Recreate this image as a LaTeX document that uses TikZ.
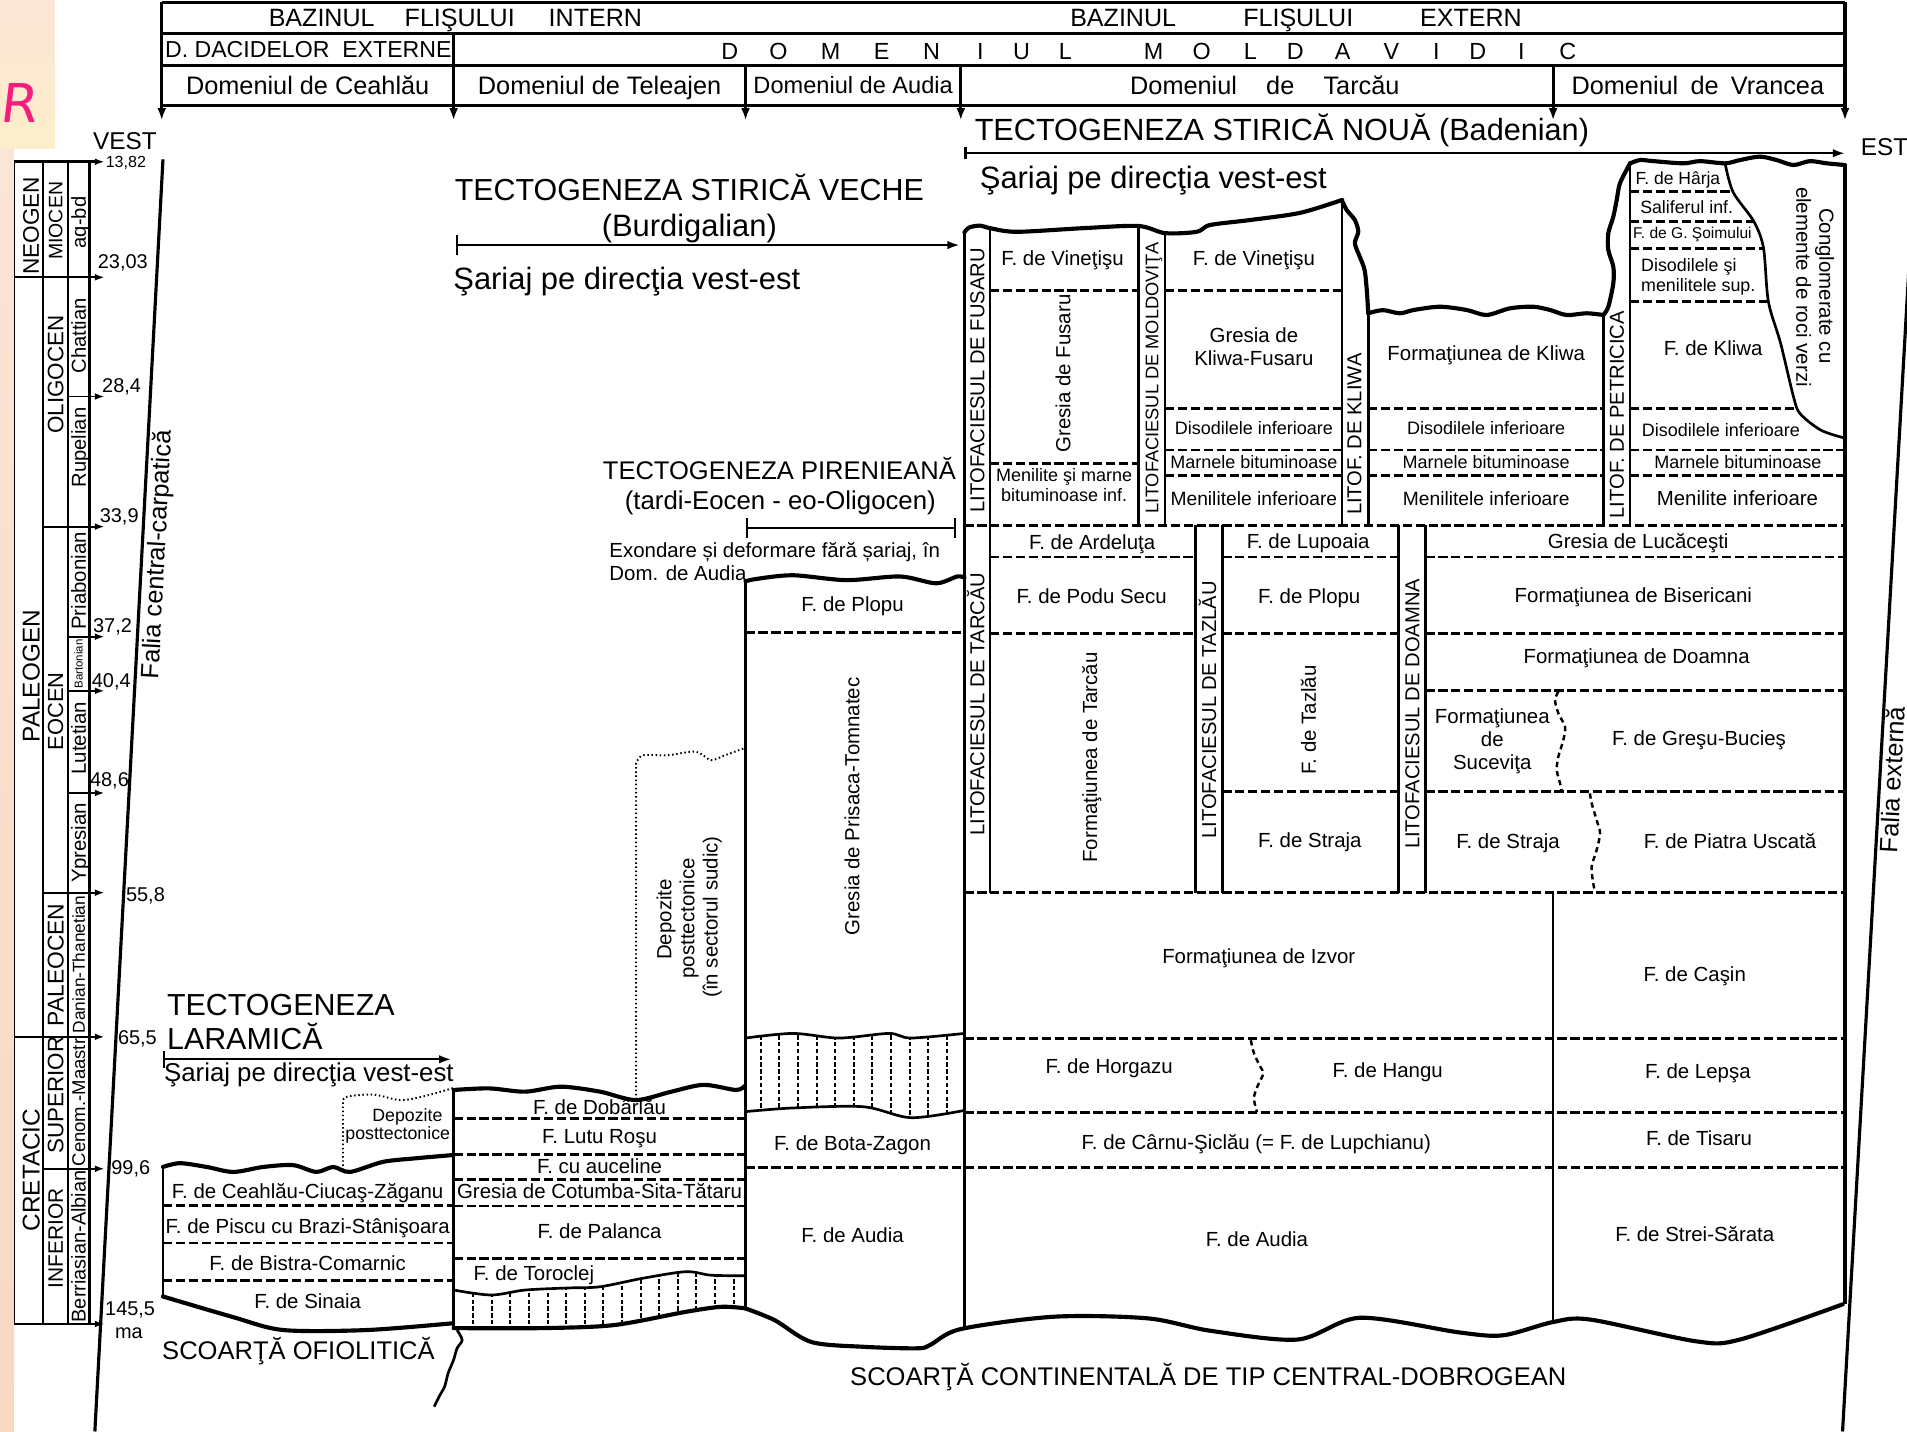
\documentclass[tikz,border=0pt]{standalone}
\usepackage{fontspec}
\setmainfont{Liberation Sans}
\newfontfamily\handfont[FakeSlant=0.12]{DejaVu Sans}
\usetikzlibrary{arrows.meta}
\definecolor{peachTop}{RGB}{251,229,214}
\definecolor{peachMid}{RGB}{252,238,202}
\definecolor{peachLow}{RGB}{249,216,192}
\definecolor{markPink}{RGB}{245,30,125}
\newcommand{\geofs}[1]{\fontsize{#1}{#1}\selectfont}
\newcommand{\geocap}[1]{\the\dimexpr #1pt*716/1000\relax}
\begin{document}
\begin{tikzpicture}[x=0.5pt,y=-0.5pt,
    geoBorder/.style={line width=1.3pt},
    geoLine/.style={line width=1.1pt},
    geoThin/.style={line width=0.7pt},
    geoWave/.style={line width=1.7pt,line join=round,line cap=round},
    geoDash/.style={line width=1.2pt,dash pattern=on 3.8pt off 1.5pt},
    geoDot/.style={line width=0.8pt,dash pattern=on 0.6pt off 1.1pt},
    geoHatch/.style={line width=0.8pt,dash pattern=on 1.8pt off 1pt},
    geoSep/.style={line width=1pt,dash pattern=on 2.2pt off 1.6pt},
    geoTip/.style={-{Latex[length=5pt,width=3.6pt]}},
    geoAgeTip/.style={-{Latex[length=4pt,width=2.8pt]},line width=0.8pt},
    geoTxt/.style={inner sep=0pt,font=\geofs{#1},text height=\geocap{#1},text depth=0pt},
    geoLab/.style={geoTxt=8.4},
    geoLabS/.style={geoTxt=7.4},
    geoLabM/.style={geoTxt=7.9},
    geoLit/.style={geoTxt=8.3},
    geoHdr/.style={geoTxt=10.3},
]
% Background
\fill[white] (0,0) rectangle (1568,1177);
\shade[top color=peachTop,bottom color=peachMid] (0,0) rectangle (45,122);
\shade[top color=peachTop,middle color=peachMid,bottom color=peachLow] (0,122) rectangle (11.5,1177);
\useasboundingbox (0,0) rectangle (1568,1177);
\node[text=markPink,font=\handfont\fontsize{22}{22}\selectfont,inner sep=0pt] (markR) at (15,85) {R};

% Header
\draw[geoBorder] (133,2) -- (1517,2);
\draw[geoBorder] (133,27.4) -- (1517,27.4);
\draw[geoBorder] (133,54) -- (1517,54);
\draw[geoBorder] (133,87) -- (1517,87);
\draw[geoBorder,geoTip] (133,1.4) -- (133,99);
\draw[geoBorder,geoTip] (1517,1.4) -- (1517,99);
\draw[geoBorder,geoTip] (373,27.4) -- (373,99);
\draw[geoBorder,geoTip] (613,54) -- (613,99);
\draw[geoBorder,geoTip] (790,54) -- (790,99);
\draw[geoBorder,geoTip] (1277,54) -- (1277,99);
\node[geoHdr] (hBazI) at (264.5,14.8) {BAZINUL};
\node[geoHdr] (hFliI) at (378,14.8) {FLIŞULUI};
\node[geoHdr] (hIntI) at (489.5,14.8) {INTERN};
\node[geoHdr] (hBazE) at (923.5,14.8) {BAZINUL};
\node[geoHdr] (hFliE) at (1067.5,14.8) {FLIŞULUI};
\node[geoHdr] (hExtE) at (1209.5,14.8) {EXTERN};
\node[geoTxt=9.5] (hDacid) at (253.5,40.4) {D. DACIDELOR\ \ EXTERNE};
\foreach \lx/\lc [count=\li] in {600/D,640/O,683/M,725/E,766/N,806/I,840/U,876/L,948.6/M,988/O,1028/L,1065/D,1104/A,1144/V,1181/I,1215/D,1251/I,1289/C}
  \node[geoTxt=9.6] (hMold\li) at (\lx,42.2) {\lc};
\node[geoTxt=10.4] (hCeahlau) at (253,70.3) {Domeniul de Ceahlău};
\node[geoTxt=10.4] (hTeleajen) at (493,70.3) {Domeniul de Teleajen};
\node[geoTxt=9.7] (hAudia) at (701.5,70.3) {Domeniul de Audia};
\node[geoTxt=10.4] (hTarcau) at (1040,70.3) {Domeniul\hspace{12pt}de\hspace{12pt}Tarcău};
\node[geoTxt=10.4] (hVrancea) at (1396,70.3) {Domeniul\hspace{5pt}de\hspace{5pt}Vrancea};

% Time scale
\draw[geoThin] (12,133) -- (12,1088.6);
\draw[geoThin] (35.6,133) -- (35.6,1088.6);
\draw[geoThin] (55.7,133) -- (55.7,1088.6);
\draw[geoBorder] (73.5,133) -- (73.5,1088.6);
\draw[geoAgeTip,line width=1.1pt] (11.6,133) -- (86,133);
\draw[geoAgeTip] (12,228) -- (86,228);
\draw[geoAgeTip] (55.7,326) -- (86,326);
\draw[geoAgeTip] (35.6,433) -- (86,433);
\draw[geoAgeTip] (55.7,523.5) -- (86,523.5);
\draw[geoAgeTip] (55.7,568) -- (86,568);
\draw[geoAgeTip] (55.7,652) -- (86,652);
\draw[geoAgeTip] (35.6,734) -- (86,734);
\draw[geoAgeTip] (12,852.5) -- (86,852.5);
\draw[geoAgeTip] (35.6,961) -- (86,961);
\draw[geoAgeTip,line width=1.1pt] (11.6,1088.6) -- (86,1088.6);
\node[geoTxt=6.6] (ag1382) at (103.5,132.6) {13,82};
\node[geoTxt=8.2] (ag2303) at (101,215) {23,03};
\node[geoTxt=8.2] (ag284) at (100,316.6) {28,4};
\node[geoTxt=8.2] (ag339) at (98,423.5) {33,9};
\node[geoTxt=8.2] (ag372) at (92.5,514) {37,2};
\node[geoTxt=8.2] (ag404) at (91.5,559) {40,4};
\node[geoTxt=8.2] (ag486) at (90,641) {48,6};
\node[geoTxt=8.2] (ag558) at (119.6,735) {55,8};
\node[geoTxt=8.2] (ag655) at (113,853) {65,5};
\node[geoTxt=8.2] (ag996) at (107.5,960) {99,6};
\node[geoTxt=8.2] (ag1455) at (107,1076) {145,5};
\node[geoTxt=8.2] (agMa) at (106,1095) {ma};
\node[geoTxt=9.3,rotate=90] (eNeo) at (25.4,185.7) {NEOGEN};
\node[geoTxt=10,rotate=90] (ePal) at (25.4,556) {PALEOGEN};
\node[geoTxt=10,rotate=90] (eCre) at (25.4,962) {CRETACIC};
\node[geoTxt=8,rotate=90] (pMio) at (45.5,181.6) {MIOCEN};
\node[geoTxt=9.2,rotate=90] (pOli) at (45.5,308) {OLIGOCEN};
\node[geoTxt=9,rotate=90] (pEoc) at (45.5,585) {EOCEN};
\node[geoTxt=9.4,rotate=90] (pPaleo) at (45.5,793.5) {PALEOCEN};
\node[geoTxt=9.2,rotate=90] (pSup) at (45.5,900.4) {SUPERIOR};
\node[geoTxt=8.6,rotate=90] (pInf) at (45.5,1018) {INFERIOR};
\node[geoTxt=8.3,rotate=90] (sAqbd) at (64.6,183) {aq-bd};
\node[geoTxt=8.3,rotate=90] (sChat) at (64.6,276) {Chattian};
\node[geoTxt=8.3,rotate=90] (sRup) at (64.6,368) {Rupelian};
\node[geoTxt=8.4,rotate=90] (sPria) at (64.6,477.6) {Priabonian};
\node[geoTxt=4.7,rotate=90] (sBart) at (64.6,546) {Bartonian};
\node[geoTxt=8.4,rotate=90] (sLut) at (64.6,607) {Lutetian};
\node[geoTxt=8.4,rotate=90] (sYpr) at (64.6,692.7) {Ypresian};
\node[geoTxt=7.1,rotate=90] (sDan) at (64.6,793) {Danian-Thanetian};
\node[geoTxt=7.6,rotate=90] (sCen) at (64.6,906.5) {Cenom.-Maastr};
\node[geoTxt=8.2,rotate=90] (sBer) at (64.6,1024.8) {Berriasian-Albian};
\node[geoTxt=10] (wVest) at (102.7,115.7) {VEST};
\node[geoTxt=10,anchor=west] (wEst) at (1529.6,120.6) {EST};

% Faults
\draw[line width=1.3pt] (134,131) -- (78,1177);
\draw[line width=1.3pt] (1573,160) -- (1515,1177);
\node[geoTxt=10.4,rotate=86.94] (fCentral) at (128.3,456) {Falia central-carpatică};
\node[geoTxt=10.4,rotate=87] (fExterna) at (1556,641) {Falia externă};

% Tectogenesis phases
\node[geoTxt=12.6] (tNoua) at (1054,106.9) {TECTOGENEZA STIRICĂ NOUĂ (Badenian)};
\draw[{Bar[width=5pt]}-{Latex[length=5pt,width=3.5pt]},line width=0.9pt] (793,126) -- (1517,126);
\node[geoTxt=12.7] (tNouaS) at (948.3,145.7) {Şariaj pe direcţia vest-est};
\node[geoTxt=12.5] (tVeche) at (566.8,155.5) {TECTOGENEZA STIRICĂ VECHE};
\node[geoTxt=12.7] (tVecheB) at (566.8,185.7) {(Burdigalian)};
\draw[{Bar[width=8pt]}-{Latex[length=5pt,width=3.5pt]},line width=0.9pt] (375,201.5) -- (789,201.5);
\node[geoTxt=12.7] (tVecheS) at (515.4,228.7) {Şariaj pe direcţia vest-est};
\node[geoTxt=10.5] (tPir) at (640.8,387) {TECTOGENEZA PIRENIEANĂ};
\node[geoTxt=10.6] (tPirB) at (641.6,411.5) {(tardi-Eocen - eo-Oligocen)};
\draw[{Bar[width=8pt]}-{Bar[width=8pt]},line width=0.9pt] (613,434) -- (786,434);
\node[geoLab,anchor=west] (tExo1) at (500.7,452) {Exondare și deformare fără șariaj, în};
\node[geoLab,anchor=west] (tExo2) at (500.7,471) {Dom. de Audia};
\node[geoTxt=12.5,anchor=west] (tLar1) at (137,826.4) {TECTOGENEZA};
\node[geoTxt=12.5,anchor=west] (tLar2) at (137,853.6) {LARAMICĂ};
\draw[{Bar[width=7pt]}-{Latex[length=5pt,width=3.5pt]},line width=0.9pt] (134,871) -- (371,871);
\node[geoTxt=10.6] (tLarS) at (254,882) {Şariaj pe direcţia vest-est};

% Ceahlau
\draw[geoWave] plot[smooth] coordinates {(134,959.5) (148,956.4) (170,959.5) (191.8,963.6) (216.5,959.5) (241,958) (260,963.6) (274,959.5) (287.8,963.6) (315,955.3) (342.6,952.3) (372.6,949.7)};
\draw[geoLine] (134,959.5) -- (134,1066);
\draw[geoWave] plot[smooth] coordinates {(134,1066) (191.8,1083) (233,1093.6) (301.5,1093.6) (372.6,1088)};
\draw[geoDash] (134,991) -- (373,991);
\draw[geoDash] (134,1022) -- (373,1022);
\draw[geoDash] (134,1052.5) -- (373,1052.5);
\draw[geoDot] (282,962) -- (282,904.5) -- plot[smooth] coordinates {(282,904.5) (286,901.5) (307,900) (329,904.5) (348,901.5) (372.6,894.6)};
\node[geoTxt=7.3] (cDep1) at (335,917) {Depozite};
\node[geoTxt=7.3] (cDep2) at (327,932) {posttectonice};
\node[geoLab] (cZag) at (253,979.5) {F. de Ceahlău-Ciucaş-Zăganu};
\node[geoLab] (cPis) at (253,1008.5) {F. de Piscu cu Brazi-Stânişoara};
\node[geoLab] (cBis) at (253,1038.5) {F. de Bistra-Comarnic};
\node[geoLab] (cSin) at (253,1070) {F. de Sinaia};
\node[geoTxt=10.5] (bOfi) at (245.4,1110) {SCOARŢĂ OFIOLITICĂ};
\draw[geoLine] plot[smooth] coordinates {(375.8,1093.6) (380,1101.8) (375.8,1108.6) (373,1118) (368.5,1129) (365.6,1140) (361,1148.4) (357,1156.6)};

% Teleajen
\begin{scope}
\clip plot[smooth] coordinates {(373,1060.7) (403.8,1064.8) (431.7,1060.7) (467,1059) (493.4,1058) (528.6,1051) (564,1045.6) (584.6,1048.5) (612.6,1049)} -- plot[smooth] coordinates {(612.6,1075.7) (593,1074.5) (564,1078.6) (505,1089.5) (446.4,1092) (373,1092)} -- cycle;
\foreach \hx in {0,...,14} \draw[geoHatch] ({389+15.3*\hx},1035) -- ({389+15.3*\hx},1100);
\end{scope}
\draw[geoLine] (373,894.6) -- (373,1093);
\draw[geoWave] plot[smooth] coordinates {(373,896.2) (402.3,894.9) (431.7,897.6) (461,893.5) (493.4,897.6) (522.7,904.5) (552,897.6) (578.5,892) (605,896.2) (612.2,893)};
\draw[geoLine] plot[smooth] coordinates {(373,1060.7) (403.8,1064.8) (431.7,1060.7) (467,1059) (493.4,1058) (528.6,1051) (564,1045.6) (584.6,1048.5) (612.6,1049)};
\draw[geoWave] plot[smooth] coordinates {(373,1092) (446.4,1092) (505,1089.5) (564,1078.6) (593,1074.5) (612.6,1075.7)};
\foreach \ty in {920,949,969.5,991.6,1035} \draw[geoDash] (373,\ty) -- (613,\ty);
\draw[geoDot] (523,904) -- (523,627.6) -- plot[smooth] coordinates {(523,627.6) (528.6,621) (549,621) (572,618) (584.5,625) (596,621) (612.6,615)};
\node[geoLab,rotate=90] (tDep1) at (546,756) {Depozite};
\node[geoLab,rotate=90] (tDep2) at (565,755) {posttectonice};
\node[geoLab,rotate=90] (tDep3) at (584,754) {(în sectorul sudic)};
\node[geoLab] (tDob) at (493,910) {F. de Dobârlău};
\node[geoLab] (tLut) at (493,934.6) {F. Lutu Roşu};
\node[geoLab] (tAuc) at (493,959) {F. cu auceline};
\node[geoLab] (tCot) at (493,979.8) {Gresia de Cotumba-Sita-Tătaru};
\node[geoLab] (tPal) at (493,1012.7) {F. de Palanca};
\node[geoLab] (tTor) at (439,1047) {F. de Toroclej};

% Audia
\begin{scope}
\clip plot[smooth] coordinates {(613,853.5) (652,849.7) (690,853.5) (731,849.7) (749,853.5) (793,849.7)} -- plot[smooth] coordinates {(793,913) (749,919) (710,910) (652,911) (613,914)} -- cycle;
\foreach \hx in {0,...,10} \draw[geoHatch] ({625.5+15.3*\hx},840) -- ({625.5+15.3*\hx},925);
\end{scope}
\draw[geoLine] (613,477) -- (613,1075.7);
\draw[geoWave] plot[smooth] coordinates {(613,478) (622,476) (652,473) (696,477) (740,474) (769.6,479.6) (787,474) (793,475)};
\draw[geoLine] plot[smooth] coordinates {(613,853.5) (652,849.7) (690,853.5) (731,849.7) (749,853.5) (793,849.7)};
\draw[geoLine] plot[smooth] coordinates {(613,914) (652,911) (710,910) (749,919) (793,913)};
\draw[geoDash] (613,520) -- (793,520);
\draw[geoWave] plot[smooth] coordinates {(612.6,1075.7) (637,1085.5) (667,1103.4) (710.5,1107.4) (754.6,1108.6) (765,1105.7) (790.3,1092.7) (867.1,1082.6) (943.9,1084) (995.2,1094.2) (1067,1101.4) (1118.2,1083.5) (1200.1,1095.6) (1236,1097.9) (1277,1087) (1307.7,1085) (1394.8,1102.9) (1430.7,1101.4) (1515.2,1072.4)};
\node[geoLab] (aPlo) at (701,497) {F. de Plopu};
\node[geoLab,rotate=90] (aPri) at (700.6,663) {Gresia de Prisaca-Tomnatec};
\node[geoLab] (aBot) at (701,940) {F. de Bota-Zagon};
\node[geoLab] (aAud) at (701,1015.5) {F. de Audia};

% Tarcau and Vrancea, outline
\draw[geoWave] plot[smooth] coordinates {(793,191) (797,187) (806,185.5) (814,187.6) (836,190.6) (890.6,187.6) (936,185.8) (958,191.7) (984,190.6) (995,185) (1028,180.9) (1069,175) (1103.5,164.4)};
\draw[geoWave] plot[smooth] coordinates {(1103.2,164.4) (1107.3,172.7) (1114,180.9) (1116.8,190.5) (1114,200) (1118,211) (1122,222) (1123.8,238.4) (1125,257.6)};
\draw[geoWave] plot[smooth] coordinates {(1125,257.6) (1137,255) (1151,257.6) (1162.3,254.9) (1184,252.2) (1206,254.9) (1222.4,259) (1241.6,253.5) (1260.6,252.2) (1274.5,254.9) (1288,259) (1304.6,257.6) (1318.3,259)};
\draw[geoWave] plot[smooth] coordinates {(1318.3,259) (1322.4,252.2) (1326.5,233) (1326.5,219.3) (1322.4,205.6) (1322.4,191.8) (1326.5,178.2) (1329.3,164.4) (1332,150.7) (1340.3,134.3)};
\draw[geoWave] plot[smooth] coordinates {(1340.3,134.3) (1348.5,131.6) (1359.5,132.5) (1384,134.3) (1397.8,132.5) (1418.4,134.3) (1430.7,131.6) (1447,128.8) (1460.8,131.6) (1474.5,135.7) (1488,132.5) (1502,134.3) (1517,135.7)};
\draw[geoLine] plot[smooth] coordinates {(1418.4,134.3) (1425,158) (1442,182) (1450,204) (1454,248) (1464,282) (1474.6,326) (1480,340) (1497,353.6) (1516,360)};
\draw[geoBorder] (793,190.5) -- (793,1093);
\draw[geoLine] (814,187.6) -- (814,734);
\draw[geoLine] (936,185.8) -- (936,432);
\draw[geoLine] (958,191.7) -- (958,432);
\draw[geoLine] (1103.5,164.4) -- (1103.5,432);
\draw[geoLine] (1125,257.6) -- (1125,432);
\draw[geoLine] (1318.3,259) -- (1318.3,432);
\draw[geoLine] (1340.3,134.3) -- (1340.3,432);
\draw[geoLine] (983,432) -- (983,734);
\draw[geoLine] (1005,432) -- (1005,734);
\draw[geoLine] (1150,432) -- (1150,734);
\draw[geoLine] (1172,432) -- (1172,734);
\draw[geoLine] (1277,734) -- (1277,1087);
\draw[geoBorder] (1517,135.7) -- (1517,1072.4);

% Tarcau and Vrancea, layer limits
\draw[geoDash] (814,238.5) -- (936,238.5);
\draw[geoDash] (958,238.5) -- (1103.5,238.5);
\draw[geoDash] (814,381) -- (936,381);
\draw[geoDash] (958,335.6) -- (1103.5,335.6);
\draw[geoDash] (1125,335.6) -- (1318.3,335.6);
\draw[geoDash] (1340.3,335.6) -- (1477.5,335.6);
\foreach \ty in {370,390.6} {
  \draw[geoDash] (958,\ty) -- (1103.5,\ty);
  \draw[geoDash] (1125,\ty) -- (1318.3,\ty);
  \draw[geoDash] (1340.3,\ty) -- (1517,\ty);
}
\draw[geoDash] (1340.3,157.6) -- (1425,157.6);
\draw[geoDash] (1340.3,182) -- (1442,182);
\draw[geoDash] (1340.3,204) -- (1450,204);
\draw[geoDash] (1340.3,248) -- (1454,248);
\draw[geoDash] (793,432) -- (1517,432);
\foreach \ty in {458,520.7} {
  \draw[geoDash] (814,\ty) -- (983,\ty);
  \draw[geoDash] (1005,\ty) -- (1150,\ty);
  \draw[geoDash] (1172,\ty) -- (1517,\ty);
}
\draw[geoDash] (1172,567.5) -- (1517,567.5);
\draw[geoDash] (1005,651) -- (1150,651);
\draw[geoDash] (1172,651) -- (1517,651);
\draw[geoDash] (793,734) -- (1517,734);
\draw[geoDash] (793,853.7) -- (1517,853.7);
\draw[geoDash] (793,915) -- (1517,915);
\draw[geoDash] (613,959.6) -- (1517,959.6);
\draw[geoSep] plot[smooth] coordinates {(1281.3,568.7) (1278.6,575.6) (1281.3,586.5) (1286.8,597.5) (1285.4,608.5) (1281.3,622.2) (1280,633) (1282.7,644) (1284,650)};
\draw[geoSep] plot[smooth] coordinates {(1307.3,652.3) (1308.7,660.5) (1312.8,674.2) (1315.6,685.2) (1312.8,699) (1308.7,712.6) (1310,726.3) (1311.5,733.2)};
\draw[geoSep] plot[smooth] coordinates {(1028.5,855.3) (1031,866) (1036.2,877) (1038.7,882.8) (1034,893) (1031,903) (1033.6,914.6)};

% Tarcau and Vrancea, upper labels
\node[geoLit,rotate=90] (lFus) at (803.5,312.6) {LITOFACIESUL DE FUSARU};
\node[geoLab] (uVin1) at (873.6,212) {F. de Vineţişu};
\node[geoLab,rotate=90] (uGrFus) at (874,307) {Gresia de Fusaru};
\node[geoLabS] (uMen1) at (875,390.6) {Menilite şi marne};
\node[geoLabS] (uMen2) at (875,407) {bituminoase inf.};
\node[geoTxt=7.5,rotate=90] (lMold) at (947,310.4) {LITOFACIESUL DE MOLDOVIŢA};
\node[geoLab] (uVin2) at (1031,212) {F. de Vineţişu};
\node[geoLab] (uGrKl1) at (1031,275.5) {Gresia de};
\node[geoLab] (uGrKl2) at (1031,294.5) {Kliwa-Fusaru};
\node[geoLabS] (uDis1) at (1031,351.6) {Disodilele inferioare};
\node[geoLabS] (uMar1) at (1031,379.6) {Marnele bituminoase};
\node[geoLabM] (uMen3) at (1031,409.8) {Menilitele inferioare};
\node[geoLit,rotate=90] (lKl) at (1113.5,357) {LITOF. DE KLIWA};
\node[geoLab] (uFmKl) at (1222,290) {Formaţiunea de Kliwa};
\node[geoLabS] (uDis2) at (1222,352) {Disodilele inferioare};
\node[geoLabS] (uMar2) at (1222,380) {Marnele bituminoase};
\node[geoLabM] (uMen4) at (1222,410) {Menilitele inferioare};
\node[geoLit,rotate=90] (lPet) at (1329.3,341) {LITOF. DE PETRICICA};
\node[geoTxt=7.2,anchor=west] (vHar) at (1344.4,146.6) {F. de Hârja};
\node[geoTxt=7.3] (vSal) at (1386.8,170) {Saliferul inf.};
\node[geoTxt=6.4] (vSoim) at (1391.5,191.9) {F. de G. Şoimului};
\node[geoTxt=7.35,anchor=west] (vDis1) at (1349,218) {Disodilele şi};
\node[geoTxt=7.35,anchor=west] (vDis2) at (1349,234.5) {menilitele sup.};
\node[geoLab] (vKl) at (1408.6,286) {F. de Kliwa};
\node[geoLabS] (vDis3) at (1415,353.6) {Disodilele inferioare};
\node[geoLabS] (vMar) at (1429,379.6) {Marnele bituminoase};
\node[geoLab] (vMen) at (1428.6,410) {Menilite inferioare};
\node[geoLab,rotate=-90] (vCong1) at (1502,235) {Conglomerate cu};
\node[geoLab,rotate=-90] (vCong2) at (1483,236) {elemente de roci verzi};

% Tarcau and Vrancea, lower labels
\node[geoLit,rotate=90] (lTar) at (803.5,579) {LITOFACIESUL DE TARCĂU};
\node[geoLab] (mArd) at (898,445.4) {F. de Ardeluţa};
\node[geoLab] (mPod) at (897.6,490.6) {F. de Podu Secu};
\node[geoLab,rotate=90] (mFmT) at (896,622.8) {Formaţiunea de Tarcău};
\node[geoLit,rotate=90] (lTaz) at (994,583.8) {LITOFACIESUL DE TAZLĂU};
\node[geoLab] (mLup) at (1075.7,444.6) {F. de Lupoaia};
\node[geoLab] (mPlo) at (1076.5,490.6) {F. de Plopu};
\node[geoLab,rotate=90] (mTaz) at (1076,592) {F. de Tazlău};
\node[geoLab] (mStr1) at (1077,690.7) {F. de Straja};
\node[geoLit,rotate=90] (lDoa) at (1161,587) {LITOFACIESUL DE DOAMNA};
\node[geoLab] (mLuc) at (1347,445) {Gresia de Lucăceşti};
\node[geoLab] (mBis) at (1343,489) {Formaţiunea de Bisericani};
\node[geoLab] (mDoa) at (1345.7,539.4) {Formaţiunea de Doamna};
\node[geoLab] (mSuc1) at (1227,589) {Formaţiunea};
\node[geoLab] (mSuc2) at (1227,607.8) {de};
\node[geoLab] (mSuc3) at (1227,627) {Suceviţa};
\node[geoLab] (mGre) at (1397,607) {F. de Greşu-Bucieş};
\node[geoLab] (mStr2) at (1240,692) {F. de Straja};
\node[geoLab] (mPia) at (1422.5,692) {F. de Piatra Uscată};
\node[geoLab] (mIzv) at (1035,785.8) {Formaţiunea de Izvor};
\node[geoLab] (mCas) at (1393.5,801) {F. de Caşin};
\node[geoLab] (mHor) at (912,877) {F. de Horgazu};
\node[geoLab] (mHan) at (1141,880) {F. de Hangu};
\node[geoLab] (mLep) at (1396,881) {F. de Lepşa};
\node[geoLab] (mCar) at (1033,939) {F. de Cârnu-Şiclău (= F. de Lupchianu)};
\node[geoLab] (mTis) at (1397,936) {F. de Tisaru};
\node[geoLab] (mAud) at (1033.5,1019) {F. de Audia};
\node[geoLab] (mStrei) at (1393.5,1014.6) {F. de Strei-Sărata};
\node[geoTxt=10.5] (bCont) at (993.5,1131.8) {SCOARŢĂ CONTINENTALĂ DE TIP CENTRAL-DOBROGEAN};
\end{tikzpicture}
\end{document}
